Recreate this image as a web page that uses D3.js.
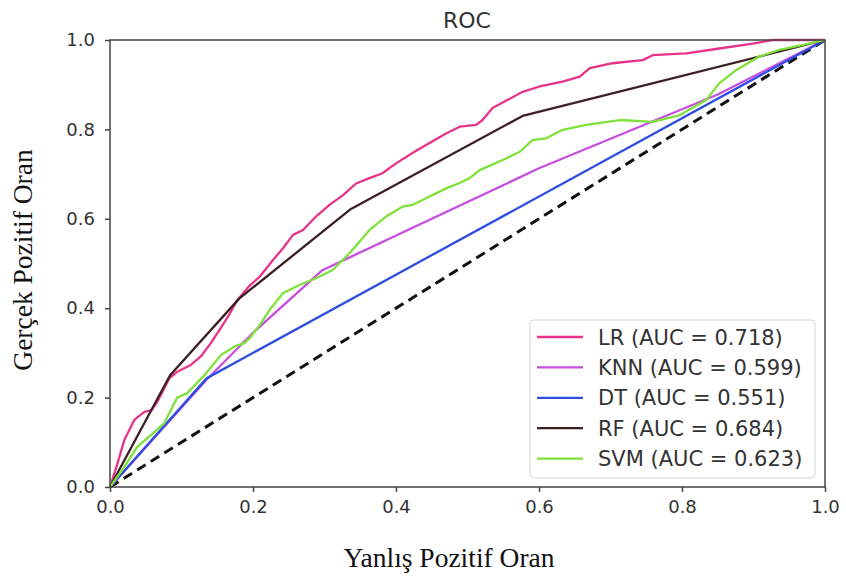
<!DOCTYPE html>
<meta charset="utf-8">

<style>
    body {
        margin: 0;
        background: #fff;
    }

    .tick text {
        font: 18px "DejaVu Sans", sans-serif;
        fill: #333;
    }

    .axis path,
    .axis line {
        stroke: #444;
        stroke-width: 1.5px;
    }

    .roc {
        fill: none;
        stroke-width: 2.3px;
        stroke-linejoin: round;
    }

    .title {
        font: 22px "DejaVu Sans", sans-serif;
        fill: #333;
        text-anchor: middle;
    }

    .axis-label {
        font: 27.5px "Liberation Serif", "Times New Roman", serif;
        fill: #111;
        text-anchor: middle;
    }

    .legend text {
        font: 21px "DejaVu Sans", sans-serif;
        fill: #333;
    }
</style>

<body>
    <svg id="chart" width="846" height="578"></svg>

    <script src="https://d3js.org/d3.v7.min.js"></script>
    <script>
        // models, colours and AUC values from the legend
        var models = ["LR", "KNN", "DT", "RF", "SVM"];
        var aucs = [0.718, 0.599, 0.551, 0.684, 0.623];
        var colors = ["#e8338a", "#c84ee0", "#2d4ee0", "#3b1f22", "#7ee23a"];

        // ROC points (false positive rate / true positive rate)
        var lrFpr = [0, 0.01, 0.02, 0.034, 0.048, 0.058, 0.066, 0.083, 0.094, 0.113, 0.127, 0.141, 0.153, 0.165, 0.178, 0.195, 0.209, 0.228, 0.242, 0.256, 0.27, 0.288, 0.307, 0.326, 0.344, 0.363, 0.381, 0.4, 0.423, 0.442, 0.47, 0.489, 0.512, 0.521, 0.535, 0.555, 0.577, 0.601, 0.633, 0.657, 0.671, 0.703, 0.745, 0.759, 0.806, 0.852, 0.899, 0.927, 1];
        var lrTpr = [0, 0.05, 0.105, 0.15, 0.168, 0.172, 0.19, 0.243, 0.258, 0.273, 0.292, 0.322, 0.351, 0.381, 0.418, 0.45, 0.47, 0.508, 0.534, 0.564, 0.575, 0.605, 0.631, 0.653, 0.679, 0.691, 0.702, 0.724, 0.747, 0.765, 0.791, 0.806, 0.81, 0.821, 0.848, 0.865, 0.884, 0.896, 0.907, 0.918, 0.937, 0.948, 0.955, 0.966, 0.97, 0.981, 0.992, 1, 1];

        var knnFpr = [0, 0.135, 0.2, 0.297, 0.6, 0.85, 1];
        var knnTpr = [0, 0.24, 0.345, 0.485, 0.713, 0.878, 1];

        var dtFpr = [0, 0.135, 1];
        var dtTpr = [0, 0.243, 1];

        var rfFpr = [0, 0.084, 0.181, 0.337, 0.577, 1];
        var rfTpr = [0, 0.25, 0.422, 0.622, 0.83, 1];

        var svmFpr = [0, 0.02, 0.038, 0.06, 0.076, 0.094, 0.108, 0.132, 0.155, 0.175, 0.188, 0.197, 0.211, 0.225, 0.242, 0.265, 0.288, 0.311, 0.335, 0.363, 0.386, 0.409, 0.423, 0.442, 0.47, 0.489, 0.503, 0.517, 0.554, 0.573, 0.591, 0.61, 0.633, 0.666, 0.713, 0.759, 0.797, 0.834, 0.852, 0.876, 0.908, 0.936, 0.969, 1];
        var svmTpr = [0, 0.045, 0.09, 0.12, 0.143, 0.2, 0.21, 0.25, 0.295, 0.315, 0.322, 0.336, 0.366, 0.4, 0.434, 0.452, 0.467, 0.485, 0.523, 0.575, 0.605, 0.627, 0.631, 0.646, 0.668, 0.68, 0.691, 0.709, 0.735, 0.75, 0.776, 0.78, 0.799, 0.81, 0.821, 0.817, 0.832, 0.866, 0.903, 0.933, 0.963, 0.978, 0.989, 1];

        var chanceLine = [0, 1];
        var tickValues = [0, 0.2, 0.4, 0.6, 0.8, 1.0];

        var fprs = [lrFpr, knnFpr, dtFpr, rfFpr, svmFpr];
        var tprs = [lrTpr, knnTpr, dtTpr, rfTpr, svmTpr];

        var svg = d3.select("#chart"),
            margin = {top: 40, right: 21, bottom: 91, left: 110},
            width = +svg.attr("width") - margin.left - margin.right,
            height = +svg.attr("height") - margin.top - margin.bottom,
            g = svg.append("g").attr("transform", "translate(" + margin.left + "," + margin.top + ")");

        var x = d3.scaleLinear().domain([0, 1]).range([0, width]);
        var y = d3.scaleLinear().domain([0, 1]).range([height, 0]);

        var line = d3.line()
            .x(function(d) { return x(d[0]); })
            .y(function(d) { return y(d[1]); });

        // chance diagonal
        g.append("path")
            .datum(chanceLine.map(function(v) { return [v, v]; }))
            .attr("d", line)
            .attr("fill", "none")
            .attr("stroke", "#111")
            .attr("stroke-width", 3)
            .attr("stroke-dasharray", "10,6");

        // one curve per model, in legend order
        models.forEach(function(m, i) {
            var pts = fprs[i].map(function(f, j) { return [f, tprs[i][j]]; });
            g.append("path")
                .datum(pts)
                .attr("class", "roc")
                .attr("stroke", colors[i])
                .attr("d", line);
        });

        // frame
        g.append("rect")
            .attr("width", width)
            .attr("height", height)
            .attr("fill", "none")
            .attr("stroke", "#444")
            .attr("stroke-width", 1.5);

        g.append("g")
            .attr("class", "axis")
            .attr("transform", "translate(0," + height + ")")
            .call(d3.axisBottom(x).tickValues(tickValues).tickFormat(d3.format(".1f")).tickSize(5).tickSizeOuter(0).tickPadding(8));

        g.append("g")
            .attr("class", "axis")
            .call(d3.axisLeft(y).tickValues(tickValues).tickFormat(d3.format(".1f")).tickSize(5).tickSizeOuter(0).tickPadding(10));

        svg.selectAll(".axis .domain").remove();

        // title and axis labels
        svg.append("text")
            .attr("class", "title")
            .attr("x", 467)
            .attr("y", 28)
            .text("ROC");

        svg.append("text")
            .attr("class", "axis-label")
            .attr("x", 449)
            .attr("y", 567)
            .text("Yanlış Pozitif Oran");

        svg.append("text")
            .attr("class", "axis-label")
            .attr("transform", "translate(32,260) rotate(-90)")
            .text("Gerçek Pozitif Oran");

        // legend
        var legend = svg.append("g")
            .attr("class", "legend")
            .attr("transform", "translate(530,320)");

        legend.append("rect")
            .attr("width", 285)
            .attr("height", 158)
            .attr("rx", 4)
            .attr("fill", "#fff")
            .attr("fill-opacity", 0.85)
            .attr("stroke", "#d6d6d6");

        var item = legend.selectAll(".item")
            .data(models)
            .enter().append("g")
            .attr("class", "item")
            .attr("transform", function(d, i) { return "translate(0," + (17 + i * 30.4) + ")"; });

        item.append("line")
            .attr("x1", 7)
            .attr("x2", 53)
            .attr("stroke", function(d, i) { return colors[i]; })
            .attr("stroke-width", 2.3);

        item.append("text")
            .attr("x", 68)
            .attr("dy", "0.36em")
            .text(function(d, i) { return d + " (AUC = " + aucs[i].toFixed(3) + ")"; });
    </script>
</body>
